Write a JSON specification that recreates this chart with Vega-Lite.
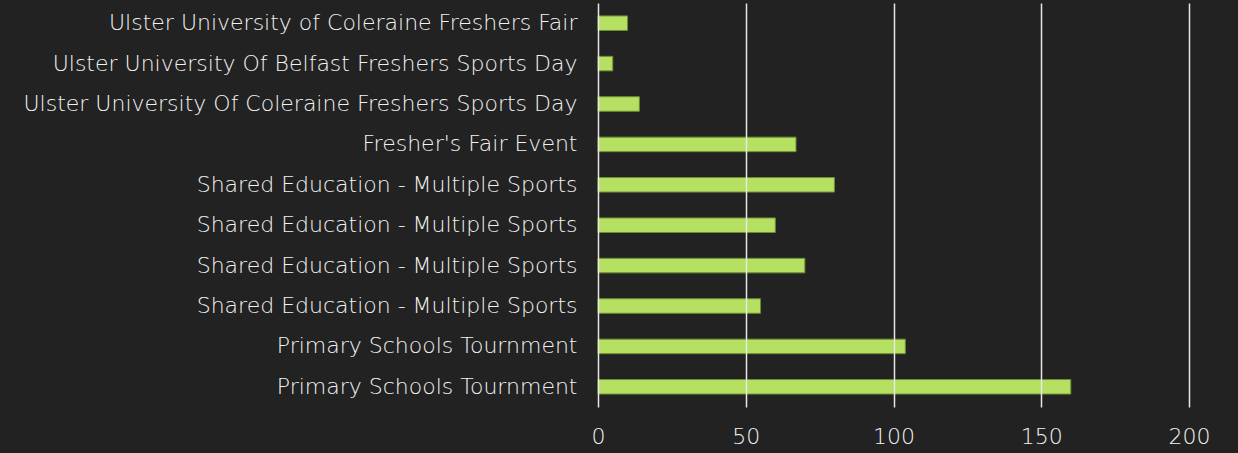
{
  "$schema": "https://vega.github.io/schema/vega-lite/v6.json",
  "width": 591,
  "height": 404,
  "autosize": {"type": "none"},
  "padding": {"left": 598, "top": 3, "right": 49, "bottom": 46},
  "background": "#222222",
  "config": {
    "view": {"stroke": null},
    "font": "DejaVu Sans"
  },
  "data": {
    "values": [
      {"key": "01|Ulster University of Coleraine Freshers Fair", "value": 10},
      {"key": "02|Ulster University Of Belfast Freshers Sports Day", "value": 5},
      {"key": "03|Ulster University Of Coleraine Freshers Sports Day", "value": 14},
      {"key": "04|Fresher's Fair Event", "value": 67},
      {"key": "05|Shared Education - Multiple Sports", "value": 80},
      {"key": "06|Shared Education - Multiple Sports", "value": 60},
      {"key": "07|Shared Education - Multiple Sports", "value": 70},
      {"key": "08|Shared Education - Multiple Sports", "value": 55},
      {"key": "09|Primary Schools Tournment", "value": 104},
      {"key": "10|Primary Schools Tournment", "value": 160}
    ]
  },
  "mark": {"type": "bar", "color": "#b5e061", "stroke": "#6e8c35", "strokeWidth": 1},
  "encoding": {
    "y": {
      "field": "key",
      "type": "nominal",
      "sort": null,
      "scale": {"paddingInner": 0.64, "paddingOuter": 0.32},
      "axis": {
        "title": null,
        "labelExpr": "substring(datum.label, 3)",
        "labelFontSize": 22,
        "labelFontWeight": 200,
        "labelColor": "#f2f2f2",
        "labelPadding": 21,
        "labelLimit": 0,
        "ticks": false,
        "domain": false,
        "grid": false
      }
    },
    "x": {
      "field": "value",
      "type": "quantitative",
      "scale": {"domain": [0, 200]},
      "axis": {
        "title": null,
        "values": [0, 50, 100, 150, 200],
        "labelFontSize": 22,
        "labelFontWeight": 200,
        "labelColor": "#f2f2f2",
        "labelPadding": 19,
        "labelFlush": false,
        "ticks": false,
        "domain": false,
        "grid": true,
        "gridColor": "#e8e8e8",
        "gridWidth": 1.5,
        "zindex": 1
      }
    }
  }
}
